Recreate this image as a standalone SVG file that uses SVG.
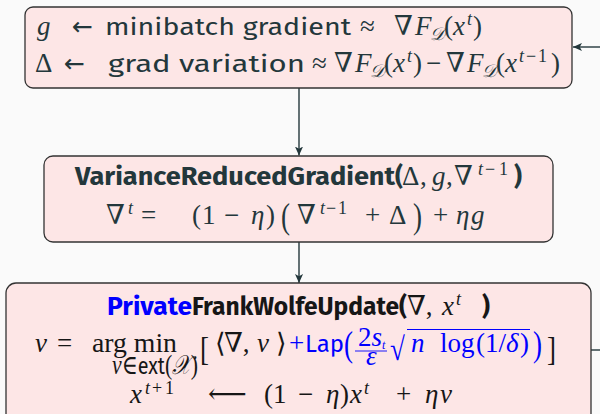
<svg xmlns="http://www.w3.org/2000/svg" width="600" height="414" viewBox="0 0 600 414">
<defs>
<marker id="ah" viewBox="0 0 10 10" refX="10" refY="5" markerWidth="9" markerHeight="9" orient="auto" markerUnits="userSpaceOnUse">
<path d="M0,0.5 L10,5 L0,9.5 L2.5,5 Z" fill="#23373b"/>
</marker>
<style>
.box{fill:#fde6e6;stroke:#333;stroke-width:1.3}
.m{font-family:"Liberation Serif","DejaVu Serif",serif;font-size:27px}
.i{font-style:italic}
.sp{font-size:18px}
.sb{font-size:18px}
.ar{font-family:"DejaVu Sans",sans-serif;font-size:25px}
.s{font-family:"Fira Sans","Open Sans","Noto Sans",sans-serif;font-size:24.5px}
.b{font-weight:bold}
.blue{fill:#0000ff}
.dk{fill:#23373b}
.bk{fill:#161616}
.con{stroke:#23373b;stroke-width:1.4;fill:none}
</style>
</defs>
<rect width="600" height="414" fill="#fafafa"/>

<g id="connectors">
<line class="con" x1="299" y1="88" x2="299" y2="155.5" marker-end="url(#ah)"/>
<line class="con" x1="299" y1="242" x2="299" y2="283" marker-end="url(#ah)"/>
<line class="con" x1="600" y1="47" x2="573" y2="47" marker-end="url(#ah)"/>
<line class="con" x1="591" y1="350" x2="600" y2="350"/>
</g>

<g id="node-gradient">
<rect class="box" x="25" y="7" width="547" height="81" rx="8"/>
<text class="m dk" y="35"><tspan x="37" class="i">g</tspan><tspan x="72" class="ar">←</tspan><tspan x="105" class="s" textLength="246" lengthAdjust="spacingAndGlyphs">minibatch gradient</tspan><tspan x="360">≈</tspan><tspan x="394">∇</tspan><tspan class="i" x="415">F</tspan><tspan class="i sb" x="430" dy="5">𝒟</tspan><tspan x="444" dy="-5">(</tspan><tspan class="i" x="453">x</tspan><tspan class="i sp" x="467" dy="-10">t</tspan><tspan x="473" dy="10">)</tspan></text>
<text class="m dk" y="72"><tspan x="35">Δ</tspan><tspan x="64" class="ar">←</tspan><tspan x="108" class="s" textLength="197" lengthAdjust="spacingAndGlyphs">grad variation</tspan><tspan x="312">≈</tspan><tspan x="334">∇</tspan><tspan class="i" x="355">F</tspan><tspan class="i sb" x="370" dy="5">𝒟</tspan><tspan x="384" dy="-5">(</tspan><tspan class="i" x="393">x</tspan><tspan class="i sp" x="407" dy="-10">t</tspan><tspan x="413" dy="10">)</tspan><tspan x="426">−</tspan><tspan x="446">∇</tspan><tspan class="i" x="467">F</tspan><tspan class="i sb" x="482" dy="5">𝒟</tspan><tspan x="496" dy="-5">(</tspan><tspan class="i" x="505">x</tspan><tspan class="i sp" x="519" dy="-10">t</tspan><tspan class="sp" x="526">−</tspan><tspan class="sp" x="538">1</tspan><tspan x="551" dy="10">)</tspan></text>
</g>

<g id="node-vr">
<rect class="box" x="44" y="156" width="509" height="86" rx="9"/>
<text class="dk" y="185"><tspan class="s b" x="75" textLength="320" lengthAdjust="spacingAndGlyphs">VarianceReducedGradient</tspan><tspan class="s b" x="395">(</tspan><tspan class="m" x="402">Δ</tspan><tspan class="m" x="420">,</tspan><tspan class="m i" x="432">g</tspan><tspan class="m" x="446">,</tspan><tspan class="m" x="454">∇</tspan><tspan class="m i sp" x="478" dy="-10">t</tspan><tspan class="m sp" x="485">−</tspan><tspan class="m sp" x="499">1</tspan><tspan class="s b" x="514" dy="10">)</tspan></text>
<text class="m dk" y="224"><tspan x="106">∇</tspan><tspan class="i sp" x="128" dy="-10">t</tspan><tspan x="141" dy="10">=</tspan><tspan x="192">(</tspan><tspan x="202">1</tspan><tspan x="224">−</tspan><tspan class="i" x="251">η</tspan><tspan x="266">)</tspan><tspan x="297">∇</tspan><tspan class="i sp" x="320" dy="-10">t</tspan><tspan class="sp" x="326">−</tspan><tspan class="sp" x="338">1</tspan><tspan x="365" dy="10">+</tspan><tspan x="389">Δ</tspan><tspan x="433">+</tspan><tspan class="i" x="456">η</tspan><tspan class="i" x="471">g</tspan></text>
<text class="m dk" transform="translate(281,228) scale(1,1.35)">(</text>
<text class="m dk" transform="translate(413,228) scale(1,1.35)">)</text>
</g>

<g id="node-fw">
<rect class="box" x="6" y="283" width="585" height="145" rx="10"/>
<text class="bk" y="315"><tspan class="s b blue" x="107" textLength="85" lengthAdjust="spacingAndGlyphs">Private</tspan><tspan class="s b" x="192" textLength="207" lengthAdjust="spacingAndGlyphs">FrankWolfeUpdate</tspan><tspan class="s b" x="399">(</tspan><tspan class="m" x="407">∇,</tspan><tspan class="m i" x="442">x</tspan><tspan class="m i sp" x="456" dy="-10">t</tspan><tspan class="s b" x="482" dy="10">)</tspan></text>
<text class="m bk" y="352"><tspan class="i" x="35">v</tspan><tspan x="57">=</tspan><tspan x="92" textLength="85" lengthAdjust="spacingAndGlyphs">arg min</tspan><tspan x="215">⟨</tspan><tspan x="224">∇,</tspan><tspan class="i" x="257">v</tspan><tspan x="276">⟩</tspan><tspan class="blue" x="289">+</tspan><tspan class="s blue" x="305" textLength="39" lengthAdjust="spacingAndGlyphs">Lap</tspan><tspan class="i blue" x="411">n</tspan><tspan class="blue" x="440">log</tspan><tspan class="blue" x="476">(1/</tspan><tspan class="i blue" x="506">δ</tspan><tspan class="blue" x="520">)</tspan></text>
<text class="m bk" x="112" y="374" font-size="17" textLength="86" lengthAdjust="spacingAndGlyphs"><tspan class="i">v</tspan>∈<tspan class="s" font-size="17">ext</tspan>(<tspan class="i">𝒳</tspan>)</text>
<text class="m bk" transform="translate(200,360) scale(1,1.25)">[</text>
<text class="m bk" transform="translate(547,360) scale(1,1.25)">]</text>
<text class="m blue" transform="translate(344,356) scale(1,1.35)">(</text>
<text class="m blue" transform="translate(533,356) scale(1,1.35)">)</text>
<text class="m blue" y="346" font-size="18"><tspan x="358">2</tspan><tspan class="i">s</tspan><tspan class="i" dy="3" font-size="12">t</tspan></text>
<line x1="355" y1="351" x2="387" y2="351" stroke="#0000ff" stroke-width="0.9"/>
<text class="m i blue" x="366" y="365" font-size="18">ε</text>
<text class="m blue" font-size="30" transform="translate(390,360) scale(1,1.2)">√</text>
<line x1="407" y1="329.5" x2="530" y2="329.5" stroke="#0000ff" stroke-width="1.1"/>
<text class="m bk" y="403"><tspan class="i" x="130">x</tspan><tspan class="i sp" x="145" dy="-9">t</tspan><tspan class="sp" x="152">+</tspan><tspan class="sp" x="165">1</tspan><tspan x="208" dy="9">⟵</tspan><tspan x="264">(</tspan><tspan x="273">1</tspan><tspan x="298">−</tspan><tspan class="i" x="326">η</tspan><tspan x="340">)</tspan><tspan class="i" x="350">x</tspan><tspan class="i sp" x="364" dy="-9">t</tspan><tspan x="396" dy="9">+</tspan><tspan class="i" x="425">η</tspan><tspan class="i" x="440">v</tspan></text>
</g>
</svg>
